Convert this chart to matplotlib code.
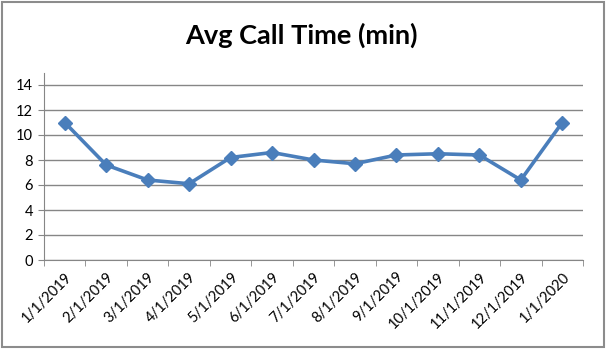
import matplotlib
matplotlib.use("Agg")
import matplotlib.pyplot as plt
from matplotlib.patches import Rectangle
import numpy as np

months = ["1/1/2019", "2/1/2019", "3/1/2019", "4/1/2019", "5/1/2019", "6/1/2019",
          "7/1/2019", "8/1/2019", "9/1/2019", "10/1/2019", "11/1/2019", "12/1/2019",
          "1/1/2020"]
avg_time = [11.0, 7.6, 6.4, 6.1, 8.2, 8.6, 8.0, 7.7, 8.4, 8.5, 8.4, 6.4, 11.0]
y_ticks = [0, 2, 4, 6, 8, 10, 12, 14]

plt.rcParams['font.family'] = ['Lato', 'DejaVu Sans']

fig = plt.figure(figsize=(6.06, 3.52), dpi=100)
fig.patch.set_facecolor("white")

# chart area border
fig.patches.append(Rectangle((2 / 606, 1 - 347 / 352), 602 / 606, 345 / 352,
                             transform=fig.transFigure, fill=False,
                             edgecolor="#8c8c8c", linewidth=1.5))

ax = fig.add_axes([44 / 606, 1 - 260 / 352, (583 - 44) / 606, (260 - 72.5) / 352])
x = np.arange(len(months))
ax.plot(x, avg_time, color="#4a7ebb", linewidth=2.6, marker="D", markersize=7,
        markeredgecolor="#4a7ebb", zorder=3)

ax.set_xlim(-0.5, len(months) - 0.5)
ax.set_ylim(0, 15)
ax.set_yticks(y_ticks)
ax.yaxis.grid(True, color="#868686", linewidth=1)
ax.set_axisbelow(True)

ax.set_xticks(x)
ax.set_xticklabels(months, rotation=45, ha="right", rotation_mode="anchor", fontsize=10.5)
ax.set_xticks(np.arange(-0.5, len(months)), minor=True)
ax.tick_params(axis="x", which="major", length=0, pad=7)
ax.tick_params(axis="x", which="minor", length=4, color="#868686")
ax.tick_params(axis="y", length=4, color="#868686", labelsize=10.5, pad=4)

for s in ["top", "right"]:
    ax.spines[s].set_visible(False)
ax.spines["left"].set_color("#868686")
ax.spines["bottom"].set_color("#868686")

fig.text(0.497, 1 - 35 / 352, "Avg Call Time (min)", ha="center", va="center",
         fontsize=19.5, fontweight="bold")

fig.savefig("out.png", dpi=100)
